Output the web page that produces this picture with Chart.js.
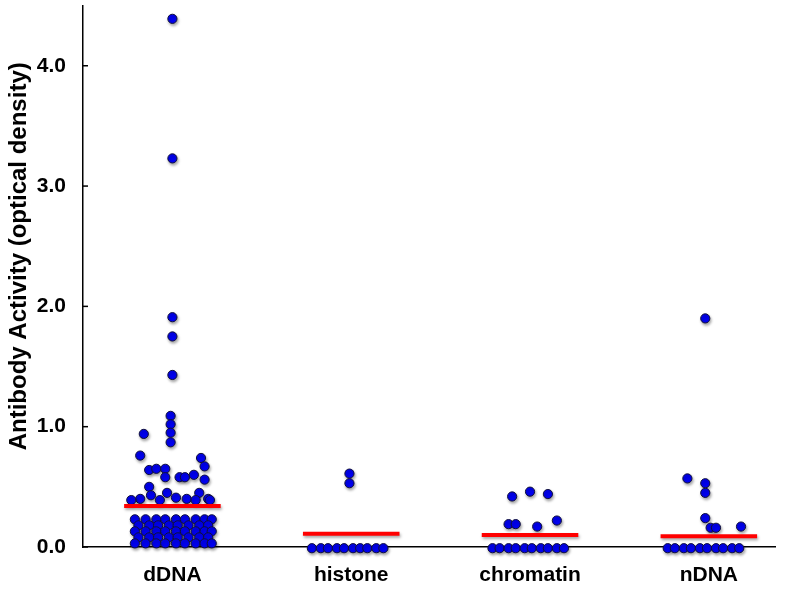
<!DOCTYPE html>
<html lang="en">
<head>
    <meta charset="UTF-8">
    <title>Antibody Activity</title>
    <script src="https://cdn.jsdelivr.net/npm/chart.js"></script>
    <style>
        body { margin: 0; padding: 0; background: #fff; }
        #myChart { display: block; }
    </style>
</head>
<body>
    <canvas id="myChart" width="800" height="589"></canvas>

    <script>
        const categories = ["dDNA", "histone", "chromatin", "nDNA"];
        const yTicks = [0, 1, 2, 3, 4];
        const means = [0.34, 0.11, 0.10, 0.09];

        // values; offsets are the sideways spread inside a column (category units)
        const dDNAValues = [4.39, 3.23, 1.91, 1.75, 1.43, 1.09, 1.02, 0.95, 0.87, 0.94, 0.76, 0.74, 0.67,
            0.64, 0.65, 0.65, 0.58, 0.58, 0.58, 0.60, 0.56, 0.50, 0.45, 0.41, 0.40, 0.45, 0.40, 0.40, 0.43,
            0.39, 0.39, 0.39, 0.39,
            0.23, 0.23, 0.23, 0.23, 0.23, 0.23, 0.23, 0.23, 0.23,
            0.18, 0.18, 0.18, 0.18, 0.18, 0.18, 0.18, 0.18,
            0.13, 0.13, 0.13, 0.13, 0.13, 0.13, 0.13, 0.13, 0.13,
            0.08, 0.08, 0.08, 0.08, 0.08, 0.08, 0.08, 0.08,
            0.03, 0.03, 0.03, 0.03, 0.03, 0.03, 0.03, 0.03, 0.03];
        const dDNAOffsets = [0, 0, 0, 0, 0, -0.01, -0.01, -0.01, -0.01, -0.16, -0.18, 0.16, 0.18,
            -0.13, -0.09, -0.04, -0.04, 0.04, 0.07, 0.12, 0.18, -0.13, -0.03, 0.02, 0.08, 0.15, 0.20, -0.18, -0.12,
            -0.23, -0.07, 0.13, 0.21,
            -0.21, -0.15, -0.09, -0.04, 0.02, 0.07, 0.13, 0.18, 0.22,
            -0.19, -0.13, -0.08, -0.02, 0.03, 0.09, 0.15, 0.20,
            -0.21, -0.15, -0.09, -0.04, 0.02, 0.07, 0.13, 0.18, 0.22,
            -0.19, -0.13, -0.08, -0.02, 0.03, 0.09, 0.15, 0.20,
            -0.21, -0.15, -0.09, -0.04, 0.02, 0.07, 0.13, 0.18, 0.22];

        const histoneValues = [0.61, 0.53, -0.01, -0.01, -0.01, -0.01, -0.01, -0.01, -0.01, -0.01, -0.01, -0.01];
        const histoneOffsets = [-0.01, -0.01, -0.22, -0.17, -0.13, -0.08, -0.04, 0.01, 0.05, 0.09, 0.14, 0.18];

        const chromatinValues = [0.42, 0.46, 0.44, 0.19, 0.19, 0.17, 0.22,
            -0.01, -0.01, -0.01, -0.01, -0.01, -0.01, -0.01, -0.01, -0.01, -0.01];
        const chromatinOffsets = [-0.10, 0.00, 0.10, -0.12, -0.08, 0.04, 0.15,
            -0.21, -0.17, -0.12, -0.08, -0.03, 0.01, 0.06, 0.10, 0.15, 0.19];

        const nDNAValues = [1.90, 0.57, 0.53, 0.45, 0.24, 0.16, 0.16, 0.17,
            -0.01, -0.01, -0.01, -0.01, -0.01, -0.01, -0.01, -0.01, -0.01, -0.01];
        const nDNAOffsets = [-0.02, -0.12, -0.02, -0.02, -0.02, 0.01, 0.04, 0.18,
            -0.23, -0.19, -0.14, -0.10, -0.05, -0.01, 0.04, 0.08, 0.13, 0.17];

        const seriesValues = [dDNAValues, histoneValues, chromatinValues, nDNAValues];
        const seriesOffsets = [dDNAOffsets, histoneOffsets, chromatinOffsets, nDNAOffsets];

        const halfLine = 0.27;

        const datasets = [];
        means.forEach((m, i) => {
            datasets.push({
                type: 'line',
                data: [{ x: i - halfLine, y: m }, { x: i + halfLine, y: m }],
                borderColor: '#ff0000',
                borderWidth: 4,
                pointRadius: 0,
                order: 0,
                clip: false
            });
        });
        seriesValues.forEach((vals, i) => {
            datasets.push({
                type: 'scatter',
                data: vals.map((v, k) => ({ x: i + seriesOffsets[i][k], y: v })),
                backgroundColor: '#0000f0',
                borderColor: '#10103a',
                borderWidth: 1,
                pointRadius: 4.6,
                order: 1,
                clip: false
            });
        });

        const shadowPlugin = {
            id: 'shadow',
            beforeDatasetsDraw: chart => {
                const ctx = chart.ctx;
                ctx.save();
                ctx.shadowColor = 'rgba(0,0,0,0.35)';
                ctx.shadowBlur = 3;
                ctx.shadowOffsetX = 1;
                ctx.shadowOffsetY = 2;
            },
            afterDatasetsDraw: chart => {
                chart.ctx.restore();
            }
        };

        const innerTicks = {
            id: 'innerTicks',
            afterDraw: chart => {
                const ctx = chart.ctx;
                const y = chart.scales.y;
                ctx.save();
                ctx.strokeStyle = '#000';
                ctx.lineWidth = 1.5;
                yTicks.forEach(t => {
                    const py = y.getPixelForValue(t);
                    ctx.beginPath();
                    ctx.moveTo(y.right, py);
                    ctx.lineTo(y.right + 5, py);
                    ctx.stroke();
                });
                ctx.restore();
            }
        };

        const ctx = document.getElementById('myChart').getContext('2d');
        window.myChart = new Chart(ctx, {
            data: { datasets: datasets },
            options: {
                responsive: false,
                animation: false,
                layout: { padding: { top: 4, right: 25, left: 0, bottom: 0 } },
                scales: {
                    x: {
                        type: 'linear',
                        min: -0.5,
                        max: 3.37,
                        afterBuildTicks: scale => {
                            scale.ticks = categories.map((c, i) => ({ value: i }));
                        },
                        afterFit: scale => {
                            scale.height = 42;
                            scale.paddingLeft = 0;
                            scale.paddingRight = 0;
                        },
                        grid: { display: false },
                        border: { display: true, color: '#000', width: 1.5 },
                        ticks: {
                            padding: 8,
                            color: '#000',
                            font: { family: 'Liberation Sans', size: 21, weight: 'bold' },
                            callback: value => categories[value]
                        }
                    },
                    y: {
                        min: 0,
                        max: 4.5,
                        afterBuildTicks: scale => {
                            scale.ticks = yTicks.map(v => ({ value: v }));
                        },
                        afterFit: scale => {
                            scale.width = 83;
                            scale.paddingTop = 0;
                            scale.paddingBottom = 0;
                        },
                        grid: { display: false },
                        border: { display: true, color: '#000', width: 1.5 },
                        ticks: {
                            padding: 9,
                            color: '#000',
                            font: { family: 'Liberation Sans', size: 21, weight: 'bold' },
                            callback: value => value.toFixed(1)
                        },
                        title: {
                            display: true,
                            text: '      Antibody Activity (optical density)',
                            color: '#000',
                            font: { family: 'Liberation Sans', size: 24, weight: 'bold' },
                            padding: { top: 5, bottom: 0 }
                        }
                    }
                },
                plugins: {
                    legend: { display: false },
                    tooltip: { enabled: false }
                }
            },
            plugins: [shadowPlugin, innerTicks]
        });
    </script>
</body>
</html>
